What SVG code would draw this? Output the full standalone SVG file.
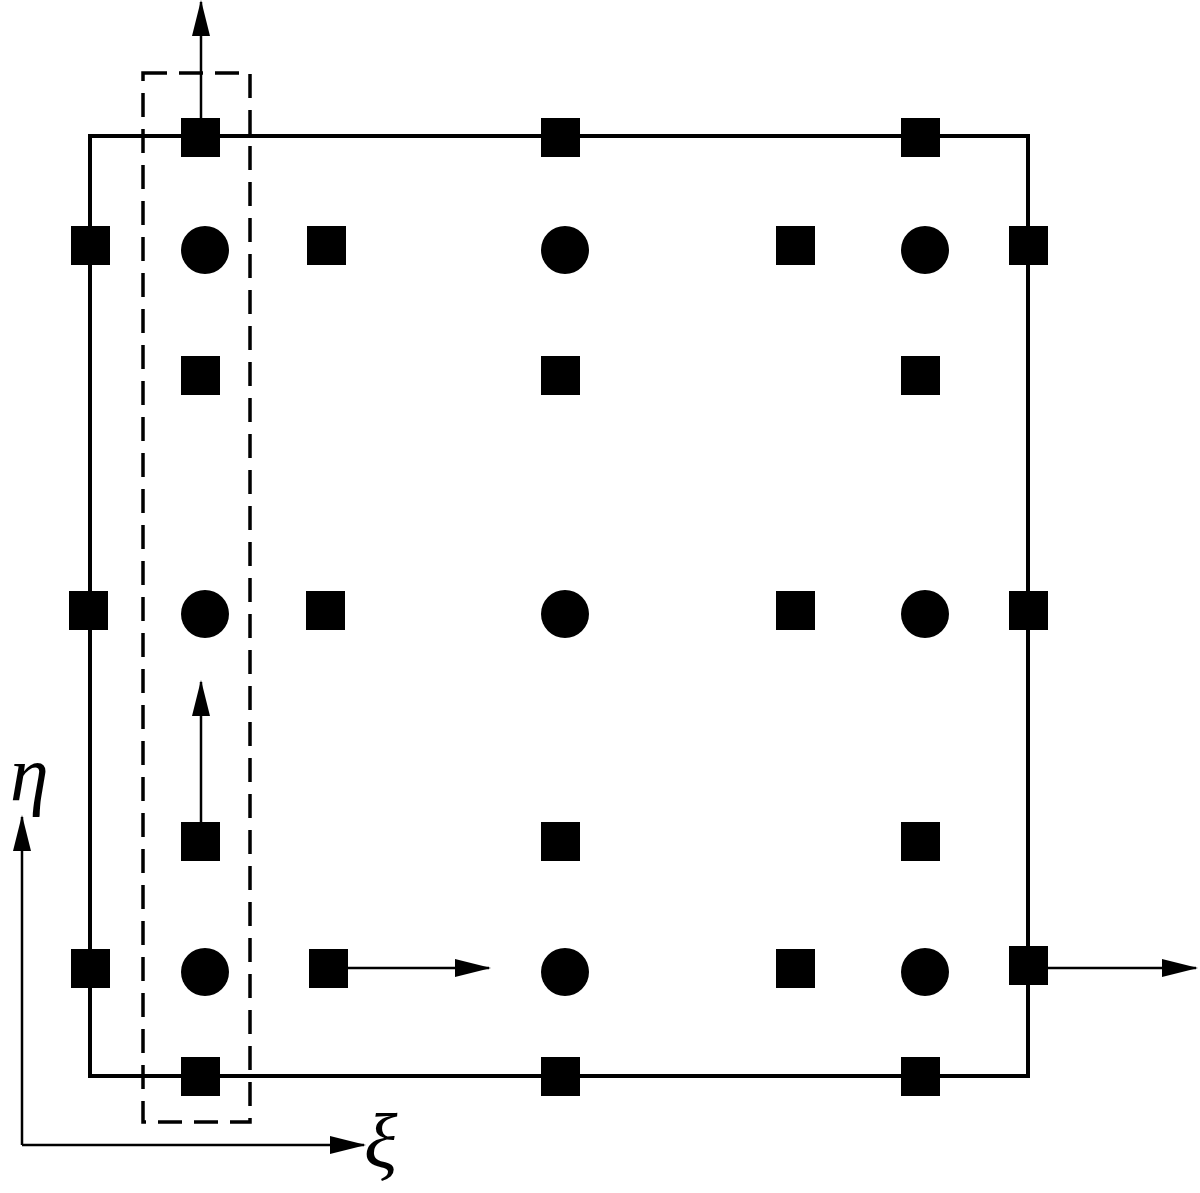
<svg xmlns="http://www.w3.org/2000/svg" width="1200" height="1193" viewBox="0 0 1200 1193">
<style>
.frame{fill:none;stroke:#000;stroke-width:4}
.dash{fill:none;stroke:#000;stroke-width:3.5;stroke-dasharray:24 12}
.conn{fill:none;stroke:#000;stroke-width:2.5}
.sq{fill:#000}
.ci{fill:#000}
.lbl{font-family:"Liberation Serif","DejaVu Serif",serif;font-style:italic;font-size:78px;fill:#000}
</style>
<defs>
<marker id="ah" markerUnits="userSpaceOnUse" markerWidth="36" markerHeight="18" refX="34" refY="9" orient="auto">
<path d="M0,0 L36,9 L0,18 Z" fill="#000"/>
</marker>
</defs>
<rect width="1200" height="1193" fill="#fff"/>
<g id="cell">
<rect class="frame" x="90" y="136" width="938" height="940"/>
</g>
<g id="control-volume">
<rect class="dash" x="143" y="73" width="107" height="1049"/>
</g>
<g id="connectors">
<line class="conn" x1="201" y1="120" x2="201" y2="2" marker-end="url(#ah)"/>
<line class="conn" x1="201" y1="822" x2="201" y2="682" marker-end="url(#ah)"/>
<line class="conn" x1="345" y1="968" x2="489" y2="968" marker-end="url(#ah)"/>
<line class="conn" x1="1045" y1="968" x2="1196" y2="968" marker-end="url(#ah)"/>
<line class="conn" x1="22" y1="1145" x2="22" y2="817" marker-end="url(#ah)"/>
<line class="conn" x1="22" y1="1145" x2="364" y2="1145" marker-end="url(#ah)"/>
</g>
<g id="flux-points">
<rect class="sq" x="181" y="118" width="39" height="39"/>
<rect class="sq" x="541" y="118" width="39" height="39"/>
<rect class="sq" x="901" y="118" width="39" height="39"/>
<rect class="sq" x="71" y="226" width="39" height="39"/>
<rect class="sq" x="307" y="226" width="39" height="39"/>
<rect class="sq" x="776" y="226" width="39" height="39"/>
<rect class="sq" x="1009" y="226" width="39" height="39"/>
<rect class="sq" x="181" y="356" width="39" height="39"/>
<rect class="sq" x="541" y="356" width="39" height="39"/>
<rect class="sq" x="901" y="356" width="39" height="39"/>
<rect class="sq" x="69" y="591" width="39" height="39"/>
<rect class="sq" x="306" y="591" width="39" height="39"/>
<rect class="sq" x="776" y="591" width="39" height="39"/>
<rect class="sq" x="1009" y="591" width="39" height="39"/>
<rect class="sq" x="181" y="822" width="39" height="39"/>
<rect class="sq" x="541" y="822" width="39" height="39"/>
<rect class="sq" x="901" y="822" width="39" height="39"/>
<rect class="sq" x="71" y="949" width="39" height="39"/>
<rect class="sq" x="309" y="949" width="39" height="39"/>
<rect class="sq" x="776" y="949" width="39" height="39"/>
<rect class="sq" x="1009" y="946" width="39" height="39"/>
<rect class="sq" x="181" y="1057" width="39" height="39"/>
<rect class="sq" x="541" y="1057" width="39" height="39"/>
<rect class="sq" x="901" y="1057" width="39" height="39"/>
</g>
<g id="solution-points">
<circle class="ci" cx="205" cy="250" r="24"/>
<circle class="ci" cx="565" cy="250" r="24"/>
<circle class="ci" cx="925" cy="250" r="24"/>
<circle class="ci" cx="205" cy="614" r="24"/>
<circle class="ci" cx="565" cy="614" r="24"/>
<circle class="ci" cx="925" cy="614" r="24"/>
<circle class="ci" cx="205" cy="972" r="24"/>
<circle class="ci" cx="565" cy="972" r="24"/>
<circle class="ci" cx="925" cy="972" r="24"/>
</g>
<g id="axis-labels">
<text class="lbl" x="10" y="800">η</text>
<text class="lbl" x="364" y="1168">ξ</text>
</g>
</svg>
